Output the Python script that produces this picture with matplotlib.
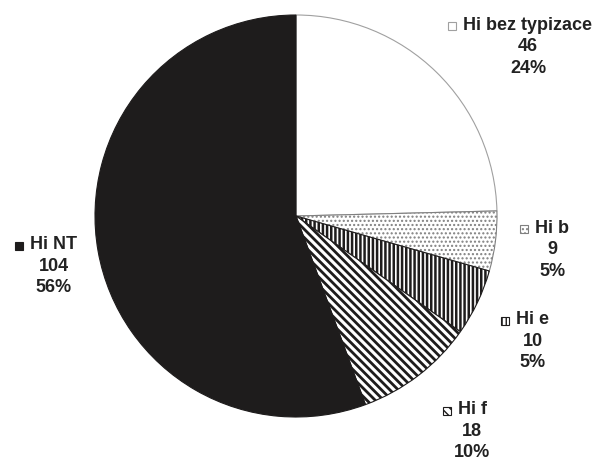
import matplotlib.pyplot as plt
from matplotlib.patches import Rectangle

# Počty izolátů podle typu
nazvy = ['Hi bez typizace', 'Hi b', 'Hi e', 'Hi f', 'Hi NT']
pocty = [46, 9, 10, 18, 104]
procenta = ['24%', '5%', '5%', '10%', '56%']

barvy = ['white', 'white', 'white', 'white', '#1e1c1c']
srafy = [None, '....', '||||', '\\\\\\\\', None]
tloustky = [1.0, 1.0, 1.8, 2.0, 1.0]
okraje = ['#a0a0a0', '#808080', '#1e1c1c', '#1e1c1c', '#1e1c1c']

# pozice popisku (střed názvu) v souřadnicích koláče
popisky_x = [1.154, 1.274, 1.179, 0.876, -1.204]
popisky_y = [0.950, -0.060, -0.517, -0.965, -0.144]

plt.rcParams['font.family'] = ['Liberation Sans', 'DejaVu Sans']

fig = plt.figure(figsize=(5.97, 4.61), dpi=100)
ax = fig.add_axes([95 / 597, 44 / 461, 402 / 597, 402 / 461])

wedges, _ = ax.pie(pocty, startangle=90, counterclock=False, radius=1,
                   colors=barvy, wedgeprops=dict(linewidth=0.8))
for w, h, e, lw in zip(wedges, srafy, okraje, tloustky):
    w.set_edgecolor(e)
    if h:
        w.set_hatch(h)
        if hasattr(w, 'set_hatch_linewidth'):
            w.set_hatch_linewidth(lw)

ax.set_xlim(-1, 1)
ax.set_ylim(-1, 1)
ax.set_aspect('equal')
ax.axis('off')

krok = 0.107
velikost = 13
barva_textu = '#222222'
fig.canvas.draw()
r = fig.canvas.get_renderer()
for i in range(len(nazvy)):
    x, y = popisky_x[i], popisky_y[i]
    t = ax.text(x, y, nazvy[i], ha='center', va='center', fontsize=velikost,
                fontweight='bold', color=barva_textu)
    ax.text(x, y - krok, str(pocty[i]), ha='center', va='center', fontsize=velikost,
            fontweight='bold', color=barva_textu)
    ax.text(x, y - 2 * krok, procenta[i], ha='center', va='center', fontsize=velikost,
            fontweight='bold', color=barva_textu)
    # malý čtvereček se vzorem výseče vlevo od názvu
    bb = t.get_window_extent(renderer=r).transformed(ax.transData.inverted())
    s = 0.04
    ctv = Rectangle((bb.x0 - 0.035 - s, y - s / 2 - 0.005), s, s,
                    facecolor=barvy[i], edgecolor=okraje[i],
                    hatch=srafy[i], linewidth=0.8, clip_on=False)
    ax.add_patch(ctv)

fig.savefig('out.png', dpi=100)
